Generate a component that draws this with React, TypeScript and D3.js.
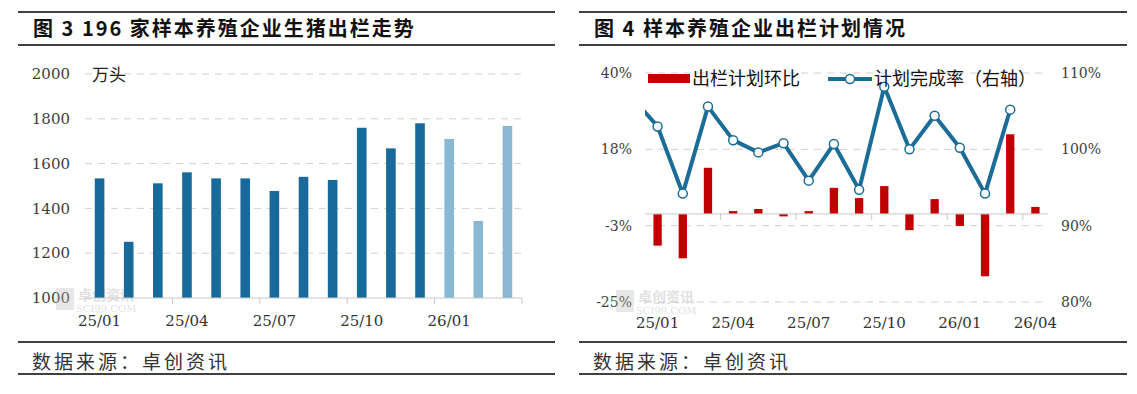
import React from 'react'
import * as d3 from 'd3'

// 图3 出栏量（万头）
const months3 = ['25/01', '25/02', '25/03', '25/04', '25/05', '25/06', '25/07', '25/08', '25/09', '25/10', '25/11', '25/12', '26/01', '26/02', '26/03']
const output3 = [1534, 1251, 1512, 1561, 1534, 1534, 1478, 1541, 1527, 1760, 1668, 1780, 1710, 1344, 1768]
const planMonths3 = ['26/01', '26/02', '26/03']
const ticks3 = [1000, 1200, 1400, 1600, 1800, 2000]
const labels3 = ['25/01', '25/04', '25/07', '25/10', '26/01']

// 图4 出栏计划
const months4 = ['24/12', '25/01', '25/02', '25/03', '25/04', '25/05', '25/06', '25/07', '25/08', '25/09', '25/10', '25/11', '25/12', '26/01', '26/02', '26/03', '26/04']
const planChange = [null, -9.0, -12.6, 13.1, 0.8, 1.4, -0.7, 0.8, 7.4, 4.5, 7.9, -4.6, 4.2, -3.4, -17.7, 22.6, 2.0]
const completion = [106.7, 103.0, 94.2, 105.6, 101.2, 99.6, 100.8, 95.9, 100.7, 94.7, 108.2, 100.0, 104.4, 100.2, 94.2, 105.2, null]
const leftTicks4 = [-25, -3.33, 18.33, 40]
const rightTicks4 = [80, 90, 100, 110]
const labels4 = ['25/01', '25/04', '25/07', '25/10', '26/01', '26/04']

const serif = '"DejaVu Serif", "Liberation Serif", serif'
const sans = '"Noto Sans CJK SC", "Noto Sans", sans-serif'
const titleFont = '"Noto Sans CJK SC", "DejaVu Serif", serif'

const Frame = ({ x1, x2, title }: { x1: number; x2: number; title: string }) => (
  <g>
    <line x1={x1} x2={x2} y1={12} y2={12} stroke='#404040' strokeWidth={2} />
    <text x={x1 + 15} y={36} fontFamily={titleFont} fontWeight='bold' fontSize={20} letterSpacing={2} fill='#111'>{title}</text>
    <line x1={x1} x2={x2} y1={45} y2={45} stroke='#404040' strokeWidth={2} />
    <line x1={x1} x2={x2} y1={342} y2={342} stroke='#404040' strokeWidth={2} />
    <text x={x1 + 14} y={369} fontFamily={sans} fontSize={19} letterSpacing={3} fill='#333'>数据来源：卓创资讯</text>
    <line x1={x1} x2={x2} y1={374} y2={374} stroke='#404040' strokeWidth={2} />
  </g>
)

const Watermark = ({ x, y }: { x: number; y: number }) => (
  <g opacity={0.35}>
    <rect x={x} y={y} width={18} height={22} fill='#bbb' />
    <text x={x + 22} y={y + 12} fontFamily={sans} fontSize={14} fontWeight='bold' fill='#aaa'>卓创资讯</text>
    <text x={x + 20} y={y + 24} fontFamily={serif} fontSize={10} fill='#aaa'>SCI99.COM</text>
  </g>
)

const Chart3 = () => {
  const x = d3.scaleBand().domain(months3).range([85, 522]).paddingInner(0.67).paddingOuter(0.335)
  const y = d3.scaleLinear().domain([1000, 2000]).range([298, 74])
  const step = x.step()
  const tickXs = d3.range(3, months3.length + 1, 3).map((i) => (x(months3[0]) as number) - x.bandwidth() * 0 - (step - x.bandwidth()) / 2 + i * step)
  return (
    <g>
      {ticks3.slice(1).map((t) => (
        <line key={t} x1={85} x2={522} y1={y(t)} y2={y(t)} stroke='#d0d0d0' strokeDasharray='7,6' />
      ))}
      {ticks3.map((t) => (
        <text key={t} x={70} y={y(t)} dy='0.35em' textAnchor='end' fontFamily={serif} fontSize={15} fill='#404040'>{t}</text>
      ))}
      <text x={92} y={81} fontFamily={sans} fontSize={17} fill='#222'>万头</text>
      <Watermark x={56} y={288} />
      {months3.map((m, i) => (
        <rect key={m} x={x(m)} y={y(output3[i])} width={x.bandwidth()} height={y(1000) - y(output3[i])}
          fill={planMonths3.includes(m) ? '#8ab7d2' : '#176a9a'} />
      ))}
      <line x1={85} x2={522} y1={298} y2={298} stroke='#c8c8c8' />
      {tickXs.map((tx) => (
        <line key={tx} x1={tx} x2={tx} y1={298} y2={304} stroke='#c8c8c8' />
      ))}
      {labels3.map((l) => (
        <text key={l} x={(x(l) as number) + x.bandwidth() / 2} y={326} textAnchor='middle' fontFamily={serif} fontSize={15} fill='#333'>{l}</text>
      ))}
    </g>
  )
}

const Chart4 = () => {
  const left = 645
  const right = 1048
  const stepGuess = (right - left) / (months4.length - 1)
  const x = d3.scaleBand().domain(months4).range([left - stepGuess, right]).paddingInner(0.67).paddingOuter(0.335)
  const step = x.step()
  const cx = (m: string) => (x(m) as number) + x.bandwidth() / 2
  const yL = d3.scaleLinear().domain([-25, 40]).range([302, 73])
  const yR = d3.scaleLinear().domain([80, 110]).range([302, 73])
  const start = left
  const tickXs = d3.range(3, 16, 3).map((i) => start + i * step)
  const linePts = months4.map((m, i) => [cx(m), completion[i]] as [number, number | null]).filter((d) => d[1] !== null) as [number, number][]
  const line = d3.line<[number, number]>().x((d) => d[0]).y((d) => yR(d[1]))
  return (
    <g>
      <defs>
        <clipPath id='plot4'>
          <rect x={left} y={60} width={right - left} height={250} />
        </clipPath>
      </defs>
      {leftTicks4.map((t) => (
        <line key={t} x1={left} x2={right} y1={yL(t)} y2={yL(t)} stroke='#d0d0d0' strokeDasharray='7,6' />
      ))}
      {leftTicks4.map((t) => (
        <text key={t} x={632} y={yL(t)} dy='0.35em' textAnchor='end' fontFamily={serif} fontSize={14} fill='#404040'>{Math.round(t)}%</text>
      ))}
      {rightTicks4.map((t) => (
        <text key={t} x={1061} y={yR(t)} dy='0.35em' fontFamily={serif} fontSize={14} fill='#404040'>{t}%</text>
      ))}
      <Watermark x={616} y={290} />
      {months4.map((m, i) => {
        const v = planChange[i]
        if (v === null) return null
        return (
          <rect key={m} x={x(m)} y={Math.min(yL(v), yL(0))} width={x.bandwidth()} height={Math.abs(yL(v) - yL(0))} fill='#c00000' />
        )
      })}
      <line x1={left} x2={right} y1={yL(0)} y2={yL(0)} stroke='#c8c8c8' />
      {tickXs.map((tx) => (
        <line key={tx} x1={tx} x2={tx} y1={yL(0)} y2={yL(0) + 6} stroke='#c8c8c8' />
      ))}
      <g clipPath='url(#plot4)'>
        <path d={line(linePts) as string} fill='none' stroke='#1b6d97' strokeWidth={4} strokeLinejoin='round' />
        {linePts.slice(1).map((d, i) => (
          <circle key={i} cx={d[0]} cy={yR(d[1])} r={4.5} fill='#fff' stroke='#1b6d97' strokeWidth={1.5} />
        ))}
      </g>
      {labels4.map((l) => (
        <text key={l} x={cx(l)} y={328} textAnchor='middle' fontFamily={serif} fontSize={15} fill='#333'>{l}</text>
      ))}
      {/* legend */}
      <rect x={648} y={74} width={42} height={9} fill='#c00000' />
      <text x={692} y={85} fontFamily={sans} fontSize={18} fill='#111'>出栏计划环比</text>
      <line x1={828} x2={872} y1={79} y2={79} stroke='#1b6d97' strokeWidth={4} />
      <circle cx={850} cy={79} r={4.5} fill='#fff' stroke='#1b6d97' strokeWidth={1.5} />
      <text x={874} y={85} fontFamily={sans} fontSize={18} fill='#111'>计划完成率（右轴）</text>
    </g>
  )
}

export default function App() {
  return (
    <svg width={1137} height={394} style={{ position: 'absolute', left: 0, top: 0, background: '#fff' }}>
      <rect width={1137} height={394} fill='#fff' />
      <Frame x1={18} x2={555} title='图 3 196 家样本养殖企业生猪出栏走势' />
      <Frame x1={579} x2={1127} title='图 4 样本养殖企业出栏计划情况' />
      <Chart3 />
      <Chart4 />
    </svg>
  )
}
